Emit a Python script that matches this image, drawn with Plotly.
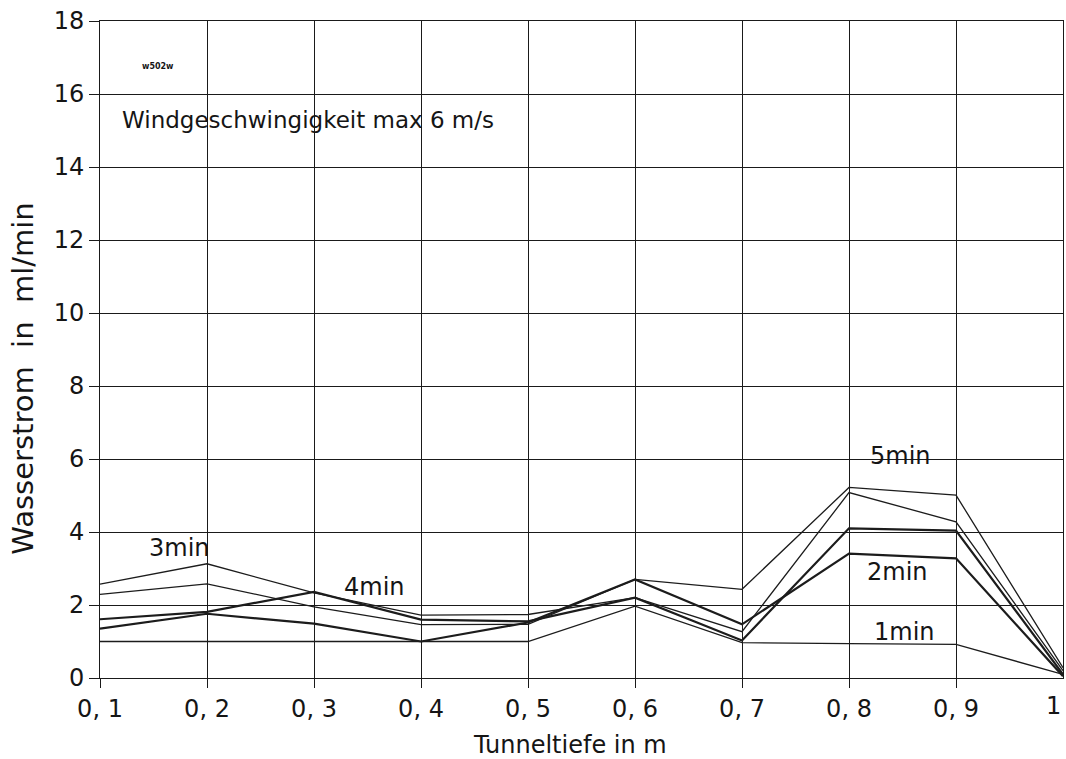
import plotly.graph_objects as go

# Tunnel depth (m) and water flow (ml/min) after 1..5 minutes
depth = [0.1, 0.2, 0.3, 0.4, 0.5, 0.6, 0.7, 0.8, 0.9, 1.0]
depth_labels = ["0, 1", "0, 2", "0, 3", "0, 4", "0, 5", "0, 6", "0, 7", "0, 8", "0, 9", "1"]

flow_1min = [1.00, 1.00, 1.00, 1.00, 1.00, 1.97, 0.97, 0.94, 0.92, 0.10]
flow_2min = [1.35, 1.76, 1.49, 1.00, 1.52, 2.70, 1.47, 3.41, 3.28, 0.05]
flow_3min = [2.57, 3.13, 2.33, 1.72, 1.74, 2.20, 1.27, 5.08, 4.28, 0.20]
flow_4min = [1.61, 1.81, 2.36, 1.60, 1.55, 2.20, 1.03, 4.10, 4.04, 0.10]
flow_5min = [2.29, 2.58, 1.95, 1.46, 1.47, 2.70, 2.43, 5.22, 5.01, 0.28]

y_ticks = list(range(0, 19, 2))

series = [
    ("1min", flow_1min, 1.3),
    ("2min", flow_2min, 2.2),
    ("3min", flow_3min, 1.3),
    ("4min", flow_4min, 2.2),
    ("5min", flow_5min, 1.3),
]

# label text and its position in data coordinates
labels = [
    ("3min", 0.174, 3.56),
    ("4min", 0.357, 2.49),
    ("5min", 0.848, 6.08),
    ("2min", 0.845, 2.90),
    ("1min", 0.852, 1.26),
]

FONT = "DejaVu Sans, Verdana, sans-serif"
INK = "#151515"

fig = go.Figure()
for name, vals, w in series:
    fig.add_trace(go.Scatter(
        x=depth, y=vals, mode="lines", name=name,
        line=dict(color="#1c1c1c", width=w),
        showlegend=False,
    ))

for text, lx, ly in labels:
    fig.add_annotation(x=lx, y=ly, xref="x", yref="y", text=text,
                       showarrow=False, font=dict(family=FONT, size=24, color=INK))

fig.add_annotation(x=0.119, y=15.3, xref="x", yref="y", xanchor="left",
                   text="Windgeschwingigkeit max 6 m/s",
                   showarrow=False, font=dict(family=FONT, size=23, color=INK))
fig.add_annotation(x=0.154, y=16.74, xref="x", yref="y",
                   text="<b>w502w</b>", showarrow=False,
                   font=dict(family=FONT, size=8, color=INK))

# axis titles placed explicitly
fig.add_annotation(x=0.539, y=-0.102, xref="x", yref="paper",
                   xanchor="center", yanchor="middle",
                   text="Tunneltiefe in m", showarrow=False,
                   font=dict(family=FONT, size=24, color=INK))
fig.add_annotation(x=-0.080, y=8.2, xref="paper", yref="y", textangle=-90,
                   xanchor="center", yanchor="middle",
                   text="Wasserstrom\u00a0 in\u00a0 ml/min", showarrow=False,
                   font=dict(family=FONT, size=29, color=INK))
# last depth label sits flush with the right edge
fig.add_annotation(x=1.0, y=-0.043, xref="x", yref="paper",
                   xanchor="right", yanchor="middle",
                   text=depth_labels[-1], showarrow=False,
                   font=dict(family=FONT, size=24, color=INK))

fig.update_layout(
    width=1066, height=759,
    margin=dict(l=100, r=3, t=21, b=81),
    paper_bgcolor="white", plot_bgcolor="white",
    font=dict(family=FONT, size=24, color=INK),
)
fig.update_xaxes(
    range=[0.1, 1.0], tickvals=depth[:-1], ticktext=depth_labels[:-1],
    showgrid=True, gridcolor="#1a1a1a", gridwidth=1,
    showline=True, linecolor="#1a1a1a", linewidth=1, mirror=True,
    ticks="outside", ticklen=9, tickcolor="#1a1a1a",
    zeroline=False,
)
fig.update_yaxes(
    range=[0, 18], tickvals=y_ticks,
    showgrid=True, gridcolor="#1a1a1a", gridwidth=1,
    showline=True, linecolor="#1a1a1a", linewidth=1, mirror=True,
    ticks="outside", ticklen=10, tickcolor="#1a1a1a",
    zeroline=False,
)

fig.write_html("out.html")
